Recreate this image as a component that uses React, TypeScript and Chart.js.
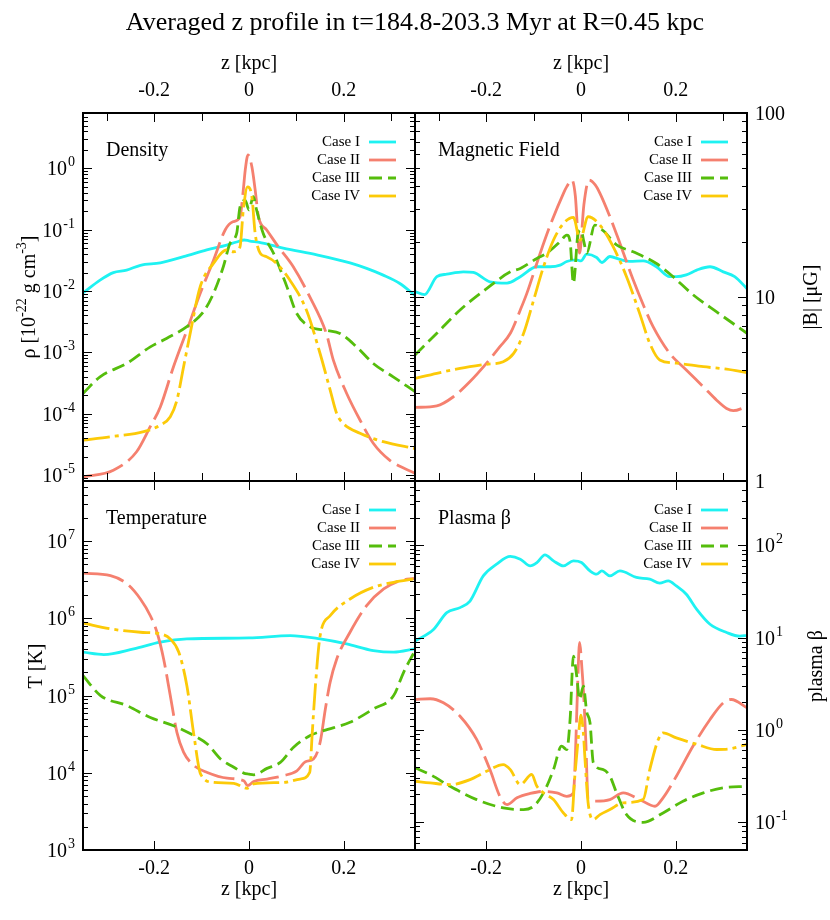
import { useEffect, useRef } from "react";
import { Chart, registerables } from "chart.js";

Chart.register(...registerables);

const SERIF = '"Liberation Serif", "Times New Roman", Times, serif';
const W = 830;
const H = 920;

const mainTitle = "Averaged z profile in t=184.8-203.3 Myr at R=0.45 kpc";
const caseNames = ["Case I", "Case II", "Case III", "Case IV"];
const caseColors = ["#1ef2f2", "#f5806f", "#55bd0c", "#fcca08"];
const caseDashes: number[][] = [[], [42, 7], [13, 6], [27, 5, 4, 5]];

const xMajorTicks = [-0.2, 0, 0.2];
const xMajorLabels = ["-0.2", "0", "0.2"];
const xMinorTicks = [-0.3, -0.1, 0.1, 0.3];

// ---------- Density ----------
const zRho1 = [-0.35, -0.314, -0.286, -0.258, -0.229, -0.187, -0.138, -0.089, -0.047, -0.026, -0.01, 0, 0.037, 0.072, 0.143, 0.213, 0.248, 0.283, 0.318, 0.35];
const rho1 = [9.3e-3, 0.0151, 0.02, 0.0219, 0.0263, 0.0288, 0.0363, 0.0468, 0.0562, 0.0631, 0.068, 0.066, 0.0589, 0.0501, 0.0389, 0.0288, 0.0234, 0.0182, 0.0133, 8.5e-3];
const zRho2 = [-0.35, -0.286, -0.237, -0.208, -0.187, -0.159, -0.131, -0.103, -0.075, -0.05, -0.034, -0.019, -0.012, -0.008, -0.002, 0.006, 0.013, 0.02, 0.037, 0.062, 0.093, 0.128, 0.163, 0.178, 0.206, 0.234, 0.262, 0.297, 0.35];
const rho2 = [9.3e-6, 1.2e-5, 2.4e-5, 6.2e-5, 1.29e-4, 5.9e-4, 2.29e-3, 9.1e-3, 0.0316, 0.1, 0.135, 0.162, 0.447, 0.93, 1.66, 1.07, 0.447, 0.162, 0.1, 0.0525, 0.0251, 8.1e-3, 2.04e-3, 7.4e-4, 2.14e-4, 7.9e-5, 3.3e-5, 1.74e-5, 1.07e-5];
const zRho3 = [-0.35, -0.314, -0.258, -0.208, -0.173, -0.131, -0.096, -0.075, -0.054, -0.04, -0.026, -0.019, -0.008, 0, 0.009, 0.016, 0.03, 0.052, 0.08, 0.1, 0.128, 0.163, 0.192, 0.227, 0.262, 0.304, 0.35];
const rho3 = [2.14e-4, 4.0e-4, 6.6e-4, 1.23e-3, 1.7e-3, 2.63e-3, 4.6e-3, 9.1e-3, 0.0251, 0.06, 0.087, 0.234, 0.3, 0.21, 0.347, 0.21, 0.087, 0.041, 0.0117, 4.4e-3, 2.63e-3, 2.29e-3, 2.04e-3, 1.23e-3, 6.6e-4, 4.0e-4, 2.29e-4];
const zRho4 = [-0.35, -0.293, -0.222, -0.187, -0.166, -0.152, -0.138, -0.124, -0.103, -0.075, -0.047, -0.033, -0.019, -0.012, -0.003, 0.006, 0.013, 0.024, 0.037, 0.058, 0.086, 0.121, 0.15, 0.171, 0.185, 0.199, 0.234, 0.283, 0.35];
const rho4 = [3.7e-5, 4.2e-5, 5.1e-5, 6.5e-5, 8.9e-5, 1.66e-4, 5.8e-4, 2.04e-3, 0.0117, 0.0282, 0.0468, 0.0437, 0.0525, 0.21, 0.5, 0.347, 0.087, 0.041, 0.0363, 0.0282, 0.0151, 4.9e-3, 9.5e-4, 2.45e-4, 1.0e-4, 6.9e-5, 4.8e-5, 3.5e-5, 2.7e-5];

// ---------- Magnetic field ----------
const zB1 = [-0.35, -0.33, -0.304, -0.283, -0.248, -0.227, -0.192, -0.156, -0.128, -0.093, -0.065, -0.044, -0.03, -0.009, 0, 0.012, 0.033, 0.044, 0.061, 0.082, 0.103, 0.131, 0.159, 0.187, 0.201, 0.222, 0.244, 0.272, 0.3, 0.324, 0.35];
const b1 = [10.7, 10.3, 12.9, 13.3, 13.7, 13.6, 12.1, 11.9, 12.9, 14.6, 14.6, 14.9, 15.6, 15.9, 15.7, 17.1, 16.4, 15.4, 16.6, 16.0, 15.6, 15.7, 14.6, 12.9, 12.9, 13.2, 14.0, 14.6, 13.7, 12.9, 11.1];
const zB2 = [-0.35, -0.304, -0.269, -0.234, -0.199, -0.171, -0.149, -0.128, -0.114, -0.086, -0.065, -0.037, -0.03, -0.019, -0.012, -0.003, 0.006, 0.017, 0.03, 0.04, 0.061, 0.082, 0.11, 0.131, 0.152, 0.187, 0.222, 0.258, 0.286, 0.307, 0.321, 0.35];
const b2 = [2.51, 2.56, 2.87, 3.47, 4.37, 5.37, 6.35, 8.5, 10.5, 17.3, 24.5, 36.6, 39.8, 43.2, 35.5, 17.3, 31.6, 43.2, 40.7, 36.6, 27.3, 19.6, 12.4, 9.1, 6.9, 4.94, 4.01, 3.25, 2.75, 2.48, 2.41, 2.54];
const zB3 = [-0.35, -0.304, -0.255, -0.199, -0.149, -0.128, -0.093, -0.072, -0.044, -0.03, -0.023, -0.016, -0.006, 0, 0.006, 0.012, 0.029, 0.047, 0.075, 0.11, 0.159, 0.194, 0.236, 0.286, 0.35];
const b3 = [4.84, 6.35, 8.5, 11.1, 13.7, 14.3, 16.2, 17.3, 20.0, 21.7, 20.0, 11.9, 22.2, 23.1, 20.0, 17.3, 24.6, 22.9, 19.2, 17.6, 15.2, 12.9, 10.3, 8.3, 6.35];
const zB4 = [-0.35, -0.304, -0.255, -0.199, -0.164, -0.142, -0.121, -0.1, -0.079, -0.058, -0.037, -0.016, -0.002, 0.015, 0.04, 0.068, 0.096, 0.124, 0.145, 0.166, 0.201, 0.258, 0.307, 0.35];
const b4 = [3.61, 3.85, 4.09, 4.31, 4.45, 4.94, 6.35, 9.6, 14.6, 20.4, 25.1, 27.1, 20.4, 27.3, 24.6, 18.7, 12.9, 8.1, 5.6, 4.55, 4.37, 4.18, 4.05, 3.88];

// ---------- Temperature ----------
const zT1 = [-0.35, -0.306, -0.243, -0.187, -0.131, 0, 0.087, 0.15, 0.206, 0.262, 0.305, 0.35];
const t1 = [3.64e5, 3.39e5, 4.02e5, 4.9e5, 5.41e5, 5.57e5, 5.97e5, 5.41e5, 4.66e5, 3.82e5, 3.64e5, 4.02e5];
const zT2 = [-0.35, -0.292, -0.257, -0.229, -0.208, -0.194, -0.18, -0.166, -0.152, -0.138, -0.116, -0.088, -0.046, -0.011, -0.003, 0.01, 0.038, 0.073, 0.101, 0.119, 0.136, 0.15, 0.161, 0.171, 0.185, 0.213, 0.248, 0.284, 0.319, 0.35];
const t2 = [3.84e6, 3.57e6, 2.79e6, 1.78e6, 1.08e6, 6.6e5, 2.98e5, 1.0e5, 3.34e4, 1.85e4, 1.24e4, 1.01e4, 8.5e3, 7.9e3, 6.8e3, 7.7e3, 8.3e3, 9.2e3, 1.06e4, 1.39e4, 1.51e4, 2.48e4, 6.7e4, 1.48e5, 2.98e5, 6.6e5, 1.46e6, 2.4e6, 3.08e6, 3.3e6];
const zT3 = [-0.35, -0.313, -0.257, -0.208, -0.159, -0.116, -0.088, -0.06, -0.032, -0.011, 0, 0.01, 0.038, 0.066, 0.094, 0.129, 0.157, 0.213, 0.262, 0.305, 0.326, 0.35];
const t3 = [1.81e5, 1.0e5, 7.4e4, 5.2e4, 4.07e4, 3.03e4, 2.36e4, 1.51e4, 1.18e4, 9.9e3, 9.6e3, 9.4e3, 1.14e4, 1.36e4, 2.14e4, 3.03e4, 3.51e4, 4.51e4, 6.7e4, 1.0e5, 2.0e5, 3.82e5];
const zT4 = [-0.35, -0.292, -0.229, -0.187, -0.166, -0.148, -0.131, -0.116, -0.102, -0.074, -0.032, -0.004, 0.01, 0.073, 0.108, 0.128, 0.133, 0.14, 0.15, 0.171, 0.213, 0.262, 0.305, 0.35];
const t4 = [8.7e5, 7.3e5, 6.6e5, 6.3e5, 5.41e5, 3.64e5, 1.34e5, 3.03e4, 9.6e3, 7.5e3, 7.3e3, 6.3e3, 7.2e3, 7.5e3, 8.3e3, 1.01e4, 3.03e4, 1.34e5, 5.96e5, 1.08e6, 1.78e6, 2.52e6, 2.93e6, 3.24e6];

// ---------- Plasma beta ----------
const zBeta1 = [-0.35, -0.311, -0.283, -0.255, -0.234, -0.206, -0.178, -0.149, -0.128, -0.107, -0.093, -0.076, -0.058, -0.037, -0.016, 0.001, 0.019, 0.033, 0.044, 0.061, 0.082, 0.117, 0.145, 0.166, 0.184, 0.201, 0.222, 0.244, 0.272, 0.307, 0.335, 0.35];
const beta1 = [9.2, 12.3, 18.7, 21.2, 25.0, 46.8, 62.7, 76.0, 71.0, 60.1, 65.3, 79.1, 68.1, 60.1, 68.1, 65.3, 53.0, 48.8, 53.0, 46.8, 53.0, 45.0, 43.1, 39.0, 41.3, 36.4, 29.6, 20.3, 14.0, 11.4, 10.4, 10.6];
const zBeta2 = [-0.35, -0.318, -0.29, -0.255, -0.22, -0.192, -0.171, -0.156, -0.135, -0.107, -0.079, -0.051, -0.03, -0.016, -0.012, -0.007, -0.003, 0.002, 0.005, 0.01, 0.015, 0.033, 0.061, 0.089, 0.124, 0.156, 0.173, 0.201, 0.236, 0.272, 0.3, 0.317, 0.35];
const beta2 = [2.14, 2.18, 1.97, 1.41, 0.79, 0.372, 0.191, 0.155, 0.184, 0.205, 0.216, 0.208, 0.191, 0.208, 0.5, 3.16, 8.9, 4.6, 2.75, 0.79, 0.176, 0.169, 0.176, 0.208, 0.176, 0.149, 0.184, 0.315, 0.667, 1.3, 1.97, 2.14, 1.74];
const zBeta3 = [-0.35, -0.318, -0.276, -0.22, -0.164, -0.121, -0.1, -0.079, -0.058, -0.041, -0.03, -0.023, -0.016, -0.009, -0.003, 0.005, 0.012, 0.019, 0.026, 0.047, 0.061, 0.075, 0.096, 0.131, 0.173, 0.215, 0.258, 0.3, 0.35];
const beta3 = [0.389, 0.329, 0.245, 0.176, 0.143, 0.137, 0.149, 0.208, 0.372, 0.667, 0.614, 1.3, 6.3, 3.84, 2.14, 2.99, 1.58, 1.2, 0.441, 0.372, 0.315, 0.208, 0.121, 0.0998, 0.126, 0.169, 0.208, 0.236, 0.245];
const zBeta4 = [-0.35, -0.318, -0.276, -0.234, -0.199, -0.164, -0.149, -0.128, -0.104, -0.093, -0.079, -0.058, -0.037, -0.02, -0.013, -0.006, 0, 0.005, 0.008, 0.015, 0.026, 0.04, 0.061, 0.089, 0.131, 0.145, 0.163, 0.173, 0.201, 0.244, 0.286, 0.314, 0.35];
const beta4 = [0.278, 0.267, 0.256, 0.29, 0.357, 0.422, 0.372, 0.256, 0.329, 0.245, 0.208, 0.176, 0.126, 0.107, 0.316, 0.79, 1.45, 0.93, 0.525, 0.162, 0.107, 0.121, 0.137, 0.162, 0.176, 0.372, 0.79, 0.93, 0.82, 0.7, 0.614, 0.624, 0.7];

// ---------- axis tick labels ----------
const rhoTickValues = [1e-5, 1e-4, 1e-3, 1e-2, 1e-1, 1];
const rhoTickExps = ["-5", "-4", "-3", "-2", "-1", "0"];
const bTickValues = [1, 10, 100];
const bTickLabels = ["1", "10", "100"];
const tTickValues = [1e3, 1e4, 1e5, 1e6, 1e7];
const tTickExps = ["3", "4", "5", "6", "7"];
const betaTickValues = [0.1, 1, 10, 100];
const betaTickExps = ["-1", "0", "1", "2"];

type Piece = { t: string; sup?: boolean };
interface PanelDef {
  key: string;
  name: string;
  area: { l: number; t: number; r: number; b: number };
  yMin: number;
  yMax: number;
  series: { z: number[]; v: number[] }[];
  ySide: "left" | "right";
  yTickValues: number[];
  yTickBase: string[];
  yTickSup: string[];
  xSide: "top" | "bottom";
  xMinor: boolean;
  yTitle: Piece[];
  yTitlePos: [number, number];
  legendRight: number;
  drawMainTitle?: boolean;
}

const panels: PanelDef[] = [
  {
    key: "rho",
    name: "Density",
    area: { l: 83, t: 113, r: 415, b: 481 },
    yMin: 8e-6,
    yMax: 8,
    series: [
      { z: zRho1, v: rho1 },
      { z: zRho2, v: rho2 },
      { z: zRho3, v: rho3 },
      { z: zRho4, v: rho4 },
    ],
    ySide: "left",
    yTickValues: rhoTickValues,
    yTickBase: rhoTickValues.map(() => "10"),
    yTickSup: rhoTickExps,
    xSide: "top",
    xMinor: true,
    yTitle: [{ t: "ρ [10" }, { t: "-22", sup: true }, { t: " g cm" }, { t: "-3", sup: true }, { t: "]" }],
    yTitlePos: [28, 297],
    legendRight: 360,
    drawMainTitle: true,
  },
  {
    key: "b",
    name: "Magnetic Field",
    area: { l: 415, t: 113, r: 747, b: 481 },
    yMin: 1,
    yMax: 100,
    series: [
      { z: zB1, v: b1 },
      { z: zB2, v: b2 },
      { z: zB3, v: b3 },
      { z: zB4, v: b4 },
    ],
    ySide: "right",
    yTickValues: bTickValues,
    yTickBase: bTickLabels,
    yTickSup: ["", "", ""],
    xSide: "top",
    xMinor: true,
    yTitle: [{ t: "|B| [μG]" }],
    yTitlePos: [810, 297],
    legendRight: 692,
  },
  {
    key: "t",
    name: "Temperature",
    area: { l: 83, t: 481, r: 415, b: 850 },
    yMin: 1e3,
    yMax: 6e7,
    series: [
      { z: zT1, v: t1 },
      { z: zT2, v: t2 },
      { z: zT3, v: t3 },
      { z: zT4, v: t4 },
    ],
    ySide: "left",
    yTickValues: tTickValues,
    yTickBase: tTickValues.map(() => "10"),
    yTickSup: tTickExps,
    xSide: "bottom",
    xMinor: false,
    yTitle: [{ t: "T [K]" }],
    yTitlePos: [35, 666],
    legendRight: 360,
  },
  {
    key: "beta",
    name: "Plasma β",
    area: { l: 415, t: 481, r: 747, b: 850 },
    yMin: 0.05,
    yMax: 500,
    series: [
      { z: zBeta1, v: beta1 },
      { z: zBeta2, v: beta2 },
      { z: zBeta3, v: beta3 },
      { z: zBeta4, v: beta4 },
    ],
    ySide: "right",
    yTickValues: betaTickValues,
    yTickBase: betaTickValues.map(() => "10"),
    yTickSup: betaTickExps,
    xSide: "bottom",
    xMinor: false,
    yTitle: [{ t: "plasma β" }],
    yTitlePos: [815, 666],
    legendRight: 692,
  },
];

const BASE_FONT = `20px ${SERIF}`;
const SUP_FONT = `14px ${SERIF}`;

function drawTickLabel(ctx: CanvasRenderingContext2D, base: string, sup: string, x: number, yMid: number, align: "left" | "right") {
  ctx.font = BASE_FONT;
  const w1 = ctx.measureText(base).width;
  ctx.font = SUP_FONT;
  const w2 = sup ? ctx.measureText(sup).width + 1 : 0;
  const x0 = align === "right" ? x - w1 - w2 : x;
  const by = yMid + 7;
  ctx.textAlign = "left";
  ctx.textBaseline = "alphabetic";
  ctx.font = BASE_FONT;
  ctx.fillText(base, x0, by);
  if (sup) {
    ctx.font = SUP_FONT;
    ctx.fillText(sup, x0 + w1 + 1, by - 9);
  }
}

function drawRich(ctx: CanvasRenderingContext2D, pieces: Piece[], cx: number, cy: number) {
  const widths = pieces.map((p) => {
    ctx.font = p.sup ? SUP_FONT : BASE_FONT;
    return ctx.measureText(p.t).width;
  });
  const total = widths.reduce((a, b) => a + b, 0);
  ctx.save();
  ctx.translate(cx, cy);
  ctx.rotate(-Math.PI / 2);
  ctx.textAlign = "left";
  ctx.textBaseline = "alphabetic";
  let x = -total / 2;
  pieces.forEach((p, i) => {
    ctx.font = p.sup ? SUP_FONT : BASE_FONT;
    ctx.fillText(p.t, x, p.sup ? -2 : 7);
    x += widths[i];
  });
  ctx.restore();
}

function minorValues(min: number, max: number): number[] {
  const out: number[] = [];
  for (let d = Math.floor(Math.log10(min)) - 1; d <= Math.ceil(Math.log10(max)); d++) {
    const dec = Math.pow(10, d);
    for (let k = 2; k <= 9; k++) {
      const v = k * dec;
      if (v > min && v < max) out.push(v);
    }
  }
  return out;
}

function makeDecor(p: PanelDef) {
  return {
    id: "decor_" + p.key,
    afterDatasetsDraw(chart: any) {
      const ctx: CanvasRenderingContext2D = chart.ctx;
      const xs = chart.scales.x;
      const ys = chart.scales.y;
      const { left, right, top, bottom } = chart.chartArea;
      ctx.save();
      ctx.fillStyle = "#000";
      ctx.strokeStyle = "#000";

      // ticks
      ctx.lineWidth = 1;
      ctx.beginPath();
      const xt = (vals: number[], len: number) => {
        vals.forEach((v) => {
          const x = Math.round(xs.getPixelForValue(v)) + 0.5;
          ctx.moveTo(x, top);
          ctx.lineTo(x, top + len);
          ctx.moveTo(x, bottom);
          ctx.lineTo(x, bottom - len);
        });
      };
      xt(xMajorTicks, 9);
      if (p.xMinor) xt(xMinorTicks, 8);
      const yt = (vals: number[], len: number) => {
        vals.forEach((v) => {
          const y = Math.round(ys.getPixelForValue(v)) + 0.5;
          ctx.moveTo(left, y);
          ctx.lineTo(left + len, y);
          ctx.moveTo(right, y);
          ctx.lineTo(right - len, y);
        });
      };
      yt(p.yTickValues, 9);
      yt(minorValues(p.yMin, p.yMax), 5);
      ctx.stroke();

      // frame
      ctx.lineWidth = 2;
      ctx.strokeRect(left, top, right - left, bottom - top);

      // y tick labels
      p.yTickValues.forEach((v, i) => {
        const y = ys.getPixelForValue(v);
        if (p.ySide === "left") drawTickLabel(ctx, p.yTickBase[i], p.yTickSup[i], left - 8, y, "right");
        else drawTickLabel(ctx, p.yTickBase[i], p.yTickSup[i], right + 8, y, "left");
      });

      // x tick labels + axis title
      ctx.font = BASE_FONT;
      ctx.textAlign = "center";
      ctx.textBaseline = "middle";
      const cx = (left + right) / 2;
      if (p.xSide === "top") {
        xMajorTicks.forEach((v, i) => ctx.fillText(xMajorLabels[i], xs.getPixelForValue(v), top - 22));
        ctx.fillText("z [kpc]", cx, top - 49);
      } else {
        xMajorTicks.forEach((v, i) => ctx.fillText(xMajorLabels[i], xs.getPixelForValue(v), bottom + 19));
        ctx.fillText("z [kpc]", cx, bottom + 40);
      }

      // y axis title
      drawRich(ctx, p.yTitle, p.yTitlePos[0], p.yTitlePos[1]);

      // panel name
      ctx.font = BASE_FONT;
      ctx.textAlign = "left";
      ctx.textBaseline = "middle";
      ctx.fillText(p.name, left + 23, top + 38);

      // legend
      ctx.font = `15px ${SERIF}`;
      ctx.textAlign = "right";
      caseNames.forEach((n, i) => {
        const y = top + 29 + 18 * i;
        ctx.fillStyle = "#000";
        ctx.fillText(n, p.legendRight, y);
        ctx.save();
        ctx.strokeStyle = caseColors[i];
        ctx.lineWidth = 2.8;
        ctx.setLineDash(caseDashes[i]);
        ctx.beginPath();
        ctx.moveTo(p.legendRight + 9, y);
        ctx.lineTo(p.legendRight + 36, y);
        ctx.stroke();
        ctx.restore();
      });

      if (p.drawMainTitle) {
        ctx.font = `26px ${SERIF}`;
        ctx.textAlign = "center";
        ctx.textBaseline = "middle";
        ctx.fillStyle = "#000";
        ctx.fillText(mainTitle, W / 2, 23);
      }
      ctx.restore();
    },
  };
}

function PanelChart({ panel }: { panel: PanelDef }) {
  const ref = useRef<HTMLCanvasElement>(null);
  useEffect(() => {
    if (!ref.current) return;
    const chart = new Chart(ref.current, {
      type: "line",
      data: {
        datasets: panel.series.map((s, i) => ({
          label: caseNames[i],
          data: s.z.map((z, j) => ({ x: z, y: s.v[j] })),
          borderColor: caseColors[i],
          backgroundColor: caseColors[i],
          borderWidth: 2.8,
          borderDash: caseDashes[i],
          pointRadius: 0,
          fill: false,
          cubicInterpolationMode: "monotone" as const,
          order: 3 - i,
          clip: 0,
        })),
      },
      options: {
        animation: false,
        responsive: false,
        devicePixelRatio: 1,
        events: [],
        layout: {
          padding: {
            left: panel.area.l,
            top: panel.area.t,
            right: W - panel.area.r,
            bottom: H - panel.area.b,
          },
        },
        scales: {
          x: { type: "linear", min: -0.35, max: 0.35, display: false },
          y: { type: "logarithmic", min: panel.yMin, max: panel.yMax, display: false },
        },
        plugins: {
          legend: { display: false },
          tooltip: { enabled: false },
          title: { display: false },
        },
      },
      plugins: [makeDecor(panel)],
    } as any);
    return () => chart.destroy();
  }, [panel]);
  return (
    <canvas
      ref={ref}
      width={W}
      height={H}
      style={{ position: "absolute", left: 0, top: 0, width: W, height: H }}
    />
  );
}

export default function App() {
  return (
    <div style={{ position: "fixed", left: 0, top: 0, width: W, height: H, background: "#fff" }}>
      {panels.map((p) => (
        <PanelChart key={p.key} panel={p} />
      ))}
    </div>
  );
}
